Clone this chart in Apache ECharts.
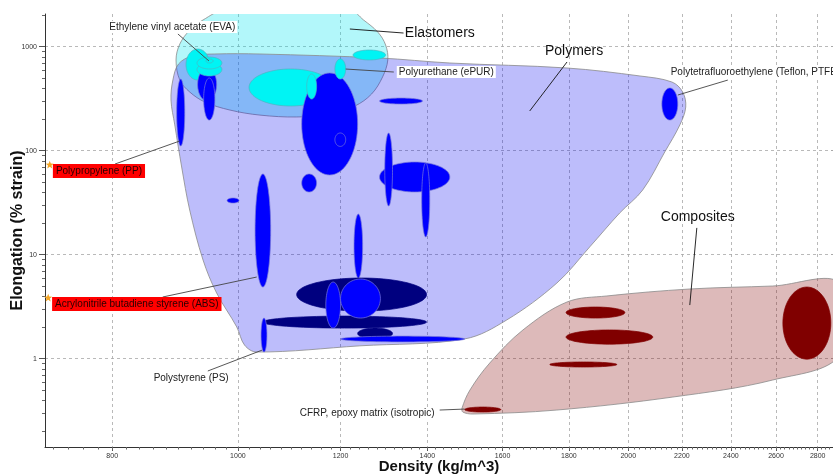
<!DOCTYPE html>
<html>
<head>
<meta charset="utf-8">
<title>Elongation vs Density</title>
<script src="https://cdn.jsdelivr.net/npm/echarts@6/dist/echarts.min.js"></script>
<style>
  html, body { margin: 0; padding: 0; background: #fff; }
  #chart { width: 833px; height: 476px; }
</style>
</head>
<body>
<div id="chart"></div>
<script>
  // axis ranges and tick labels (both axes are logarithmic)
  const densityRange = [710, 2877]
  const elongationRange = [0.1416, 2063]
  const densityTicks = [800, 1000, 1200, 1400, 1600, 1800, 2000, 2200, 2400, 2600, 2800]
  const elongationTicks = [1, 10, 100, 1000]

  // family envelopes: density (kg/m^3) and elongation (% strain) along the outline
  const elastomerDensity = [977, 940, 918, 902, 896, 902, 918, 943, 986, 1040, 1110, 1177, 1231, 1268, 1293, 1305, 1300, 1282, 1250, 1220]
  const elastomerElongation = [2254, 1807, 1440, 1060, 745, 478, 367, 294, 246, 220, 211, 225, 269, 351, 512, 745, 1038, 1383, 1807, 2254]
  const polymerDensity = [888, 891, 900, 922, 960, 1040, 1286, 1457, 1794, 2042, 2161, 2203, 2215, 2192, 2134, 2052, 1970, 1868, 1762, 1612, 1496, 1242, 1034, 1012, 998, 963, 940, 918, 905, 894]
  const polymerElongation = [307, 478, 682, 814, 851, 851, 779, 697, 624, 523, 458, 367, 263, 177, 97.2, 41.9, 25.2, 11.9, 5.34, 2.36, 1.55, 1.33, 1.16, 1.35, 2.02, 4.28, 8.9, 26.9, 69.7, 177]
  const compositeDensity = [1489, 1510, 1564, 1659, 1794, 1925, 2231, 2585, 2912, 2912, 2585, 2165, 1762, 1518, 1491]
  const compositeElongation = [0.336, 0.5, 0.909, 1.89, 3.51, 4.01, 4.68, 5.0, 5.34, 1.085, 0.624, 0.428, 0.321, 0.294, 0.307]

  // material bubbles in draw order: [density lo, density hi, elongation lo, elongation hi, family]
  const materials = [
      [1020, 1183, 269, 611, 'elastomer'],
      [912, 951, 478, 950, 'elastomer'],
      [931, 963, 301, 624, 'polymer'],
      [941, 960, 197, 500, 'polymer'],
      [930, 972, 523, 697, 'elastomer'],
      [930, 972, 611, 796, 'elastomer'],
      [945, 957, 697, 762, 'elastomer'],
      [897, 910, 111, 489, 'polymer'],
      [1120, 1237, 58.4, 559, 'polymer'],
      [1188, 1211, 110, 148, 'polymer'],
      [1130, 1150, 314, 547, 'elastomer'],
      [1188, 1211, 489, 762, 'elastomer'],
      [1227, 1300, 745, 929, 'elastomer'],
      [1286, 1388, 281, 321, 'polymer'],
      [1120, 1150, 40.1, 59.7, 'polymer'],
      [1286, 1457, 40.1, 77.9, 'polymer'],
      [1298, 1316, 29.4, 148, 'polymer'],
      [1386, 1406, 14.8, 76.2, 'polymer'],
      [981, 1002, 31.4, 35.1, 'polymer'],
      [1031, 1060, 4.89, 59.7, 'polymer'],
      [1229, 1248, 5.97, 24.6, 'polymer'],
      [1110, 1398, 2.87, 5.97, 'polymerDark'],
      [1045, 1398, 1.97, 2.57, 'polymerDark'],
      [1169, 1200, 1.97, 5.46, 'polymer'],
      [1200, 1288, 2.46, 5.84, 'polymer'],
      [1237, 1316, 1.55, 1.97, 'polymerDark'],
      [1200, 1496, 1.45, 1.65, 'polymer'],
      [1042, 1053, 1.16, 2.46, 'polymer'],
      [2123, 2184, 197, 401, 'polymer'],
      [1496, 1595, 0.307, 0.343, 'composite'],
      [1791, 1988, 2.46, 3.14, 'composite'],
      [1791, 2089, 1.38, 1.89, 'composite'],
      [1740, 1960, 0.832, 0.93, 'composite'],
      [2632, 2866, 0.99, 4.89, 'composite']
  ]

  // annotations: text anchor, leader line from -> to (data units)
  const notes = [
      { text: 'Ethylene vinyl acetate (EVA)', at: [890, 1547], from: [899, 1325], to: [950, 729], kind: 'box', align: 'center' },
      { text: 'Elastomers', at: [1345, 1354], from: [1220, 1480], to: [1342, 1354], kind: 'group', align: 'left' },
      { text: 'Polymers', at: [1725, 909], from: [1794, 713], to: [1679, 241], kind: 'group', align: 'left' },
      { text: 'Polyurethane (ePUR)', at: [1326, 571], from: [1211, 610], to: [1319, 571], kind: 'box', align: 'left' },
      { text: 'Polytetrafluoroethylene (Teflon, PTFE)', at: [2149, 571], from: [2387, 478], to: [2184, 343], kind: 'box', align: 'left' },
      { text: 'Polypropylene (PP)', at: [720, 63.8], from: [804, 74.5], to: [902, 124], kind: 'red', align: 'left', star: [716, 72.9] },
      { text: 'Acrylonitrile butadiene styrene (ABS)', at: [719, 3.36], from: [875, 3.92], to: [1034, 6.1], kind: 'red', align: 'left', star: [714, 3.83] },
      { text: 'Polystyrene (PS)', at: [858, 0.652], from: [948, 0.762], to: [1044, 1.21], kind: 'box', align: 'left' },
      { text: 'Composites', at: [2119, 23.0], from: [2259, 18.1], to: [2231, 3.28], kind: 'group', align: 'left' },
      { text: 'CFRP, epoxy matrix (isotropic)', at: [1112, 0.3], from: [1431, 0.321], to: [1496, 0.328], kind: 'box', align: 'left' }
  ]

  const FONT = '"Liberation Sans", Arial, sans-serif'
  const L = Math.log10

  const familyStyle = {
      elastomer: { fill: '#00f4f4', stroke: '#4fb5c0' },
      polymer: { fill: '#0000ff', stroke: '#7a7ad8' },
      polymerDark: { fill: '#00007f', stroke: '#00007f' },
      composite: { fill: '#800000', stroke: '#800000' }
  }
  const noteStyle = {
      box: { fontSize: 10, color: '#222', bg: '#fff', padding: [1, 2], line: '#444' },
      group: { fontSize: 14, color: '#111', bg: null, padding: 0, line: '#111' },
      red: { fontSize: 10, color: '#2a0000', bg: '#ff0000', padding: [2, 3], line: '#444' }
  }

  // minor tick positions
  const densityMinor = []
  for (let d = 720; d <= 2860; d += 20) densityMinor.push(L(d))
  const elongationMinor = []
  for (let n = -1; n <= 3; n++) {
      for (let k = 2; k <= 9; k++) {
          const v = k * Math.pow(10, n)
          if (v > elongationRange[0] && v < elongationRange[1]) elongationMinor.push(L(v))
      }
  }

  function pt(api, d, e) {
      return api.coord([L(d), L(e)])
  }

  function envelope(ds, es, fill) {
      return {
          type: 'custom',
          clip: true,
          silent: true,
          data: [[L(ds[0]), L(es[0])]],
          renderItem: (params, api) => ({
              type: 'polygon',
              shape: { points: ds.map((d, i) => pt(api, d, es[i])), smooth: 0.35 },
              style: { fill: fill, stroke: '#8a8a8a', lineWidth: 0.8 }
          })
      }
  }

  function renderBubble(params, api) {
      const a = api.coord([api.value(0), api.value(2)])
      const b = api.coord([api.value(1), api.value(3)])
      const cx = (a[0] + b[0]) / 2
      const cy = (a[1] + b[1]) / 2
      const rx = Math.abs(b[0] - a[0]) / 2
      const ry = Math.abs(b[1] - a[1]) / 2
      const points = []
      for (let i = 0; i < 72; i++) {
          const t = i / 72 * Math.PI * 2
          points.push([cx + rx * Math.cos(t), cy + ry * Math.sin(t)])
      }
      const s = familyStyle[materials[params.dataIndex][4]]
      return {
          type: 'polygon',
          shape: { points: points },
          style: { fill: s.fill, stroke: s.stroke, lineWidth: 0.7 }
      }
  }

  function renderNote(params, api) {
      const n = notes[params.dataIndex]
      const s = noteStyle[n.kind]
      const p0 = pt(api, n.from[0], n.from[1])
      const p1 = pt(api, n.to[0], n.to[1])
      const at = pt(api, n.at[0], n.at[1])
      const children = [{
          type: 'line',
          shape: { x1: p0[0], y1: p0[1], x2: p1[0], y2: p1[1] },
          style: { stroke: s.line, lineWidth: 0.9 }
      }, {
          type: 'text',
          x: at[0],
          y: at[1],
          style: {
              text: n.text,
              fill: s.color,
              fontSize: s.fontSize,
              fontFamily: FONT,
              align: n.align,
              textAlign: n.align,
              verticalAlign: 'middle',
              textVerticalAlign: 'middle',
              backgroundColor: s.bg,
              padding: s.padding
          }
      }]
      if (n.star) {
          const c = pt(api, n.star[0], n.star[1])
          const pts = []
          for (let i = 0; i < 10; i++) {
              const r = i % 2 ? 1.8 : 4.2
              const t = -Math.PI / 2 + i * Math.PI / 5
              pts.push([c[0] + r * Math.cos(t), c[1] + r * Math.sin(t)])
          }
          children.push({ type: 'polygon', shape: { points: pts }, style: { fill: '#f5a623' } })
      }
      return { type: 'group', children: children }
  }

  const chart = echarts.init(document.getElementById('chart'))

  const xRange = { min: L(densityRange[0]), max: L(densityRange[1]) }
  const yRange = { min: L(elongationRange[0]), max: L(elongationRange[1]) }
  const fmt = v => String(Math.round(Math.pow(10, v)))
  const gridLine = { show: true, lineStyle: { color: '#a8a8a8', type: [3, 3], width: 0.8 } }

  chart.setOption({
      animation: false,
      backgroundColor: '#fff',
      grid: { left: 45, right: 0, top: 14, bottom: 29, containLabel: false, outerBoundsMode: 'none' },
      xAxis: [{
          type: 'value',
          min: xRange.min,
          max: xRange.max,
          position: 'bottom',
          axisLine: { show: true, onZero: false, lineStyle: { color: '#333', width: 1 } },
          axisTick: { show: true, customValues: densityTicks.map(L), length: 4, lineStyle: { color: '#555' } },
          axisLabel: { customValues: densityTicks.map(L), formatter: fmt, fontSize: 7, color: '#333', margin: 6, fontFamily: FONT },
          splitLine: gridLine,
          name: 'Density (kg/m^3)',
          nameLocation: 'middle',
          nameGap: 12,
          nameMoveOverlap: false,
          nameTextStyle: { fontSize: 15, fontWeight: 'bold', color: '#111', fontFamily: FONT }
      }, {
          type: 'value',
          min: xRange.min,
          max: xRange.max,
          position: 'bottom',
          axisLine: { show: false, onZero: false },
          axisTick: { show: true, customValues: densityMinor, length: 2.5, lineStyle: { color: '#666' } },
          axisLabel: { show: false },
          splitLine: { show: false }
      }],
      yAxis: [{
          type: 'value',
          min: yRange.min,
          max: yRange.max,
          position: 'left',
          axisLine: { show: true, onZero: false, lineStyle: { color: '#333', width: 1 } },
          axisTick: { show: true, customValues: elongationTicks.map(L), length: 6, lineStyle: { color: '#555' } },
          axisLabel: { customValues: elongationTicks.map(L), formatter: fmt, fontSize: 7, color: '#333', margin: 8, fontFamily: FONT },
          splitLine: gridLine,
          name: 'Elongation (% strain)',
          nameLocation: 'middle',
          nameGap: 19,
          nameMoveOverlap: false,
          nameTextStyle: { fontSize: 16, fontWeight: 'bold', color: '#111', fontFamily: FONT }
      }, {
          type: 'value',
          min: yRange.min,
          max: yRange.max,
          position: 'left',
          axisLine: { show: false, onZero: false },
          axisTick: { show: true, customValues: elongationMinor, length: 3, lineStyle: { color: '#666' } },
          axisLabel: { show: false },
          splitLine: { show: false }
      }],
      series: [
          envelope(elastomerDensity, elastomerElongation, 'rgba(0,230,238,0.3)'),
          envelope(polymerDensity, polymerElongation, 'rgba(0,0,240,0.26)'),
          envelope(compositeDensity, compositeElongation, 'rgba(128,0,0,0.27)'),
          {
              type: 'custom',
              clip: true,
              silent: true,
              data: materials.map(m => [L(m[0]), L(m[1]), L(m[2]), L(m[3])]),
              renderItem: renderBubble
          },
          {
              type: 'custom',
              silent: true,
              data: notes.map(n => [L(n.at[0]), L(n.at[1])]),
              renderItem: renderNote
          }
      ]
  })
</script>
</body>
</html>
